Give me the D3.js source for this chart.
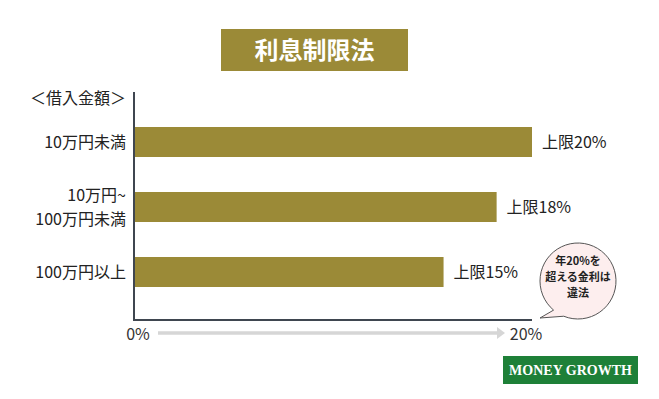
<!DOCTYPE html>
<html>
<head>
<meta charset="utf-8">
<script src="https://cdn.jsdelivr.net/npm/d3@7"></script>
<style>
  body { margin: 0; background: #fff; }
  svg text { font-family: "Noto Sans CJK JP", "Noto Sans", sans-serif; }
</style>
</head>
<body>
<svg></svg>
<script>
///////////////////////////////////////////
// Data
var categories = [["10万円未満"], ["10万円~", "100万円未満"], ["100万円以上"]];
var limits = [20, 18, 15];
var valueLabels = ["上限20%", "上限18%", "上限15%"];
var tickLabels = ["0%", "20%"];
var title = "利息制限法";
var axisTitle = "＜借入金額＞";
var bubbleLines = ["年20%を", "超える金利は", "違法"];

///////////////////////////////////////////
// Layout Setting
var svgWidth = 659, svgHeight = 399;
var margin = {top: 92, right: 127, bottom: 79, left: 134},
    width = svgWidth - margin.left - margin.right,
    height = svgHeight - margin.top - margin.bottom;

var gold = "#9b8a37", axisColor = "#3f4650";

var svg = d3.select("svg").attr("width", svgWidth).attr("height", svgHeight);

// bars are drawn on a stretched scale (as in the original design)
var x = d3.scaleLinear().domain([-2.5, 20]).range([0, width]);
var y = d3.scaleBand().domain(d3.range(categories.length)).range([20, 215]);

var g = svg.append("g").attr("transform", "translate(" + [margin.left, margin.top] + ")");

// title box
svg.append("rect").attr("x", 221).attr("y", 29).attr("width", 187).attr("height", 42).attr("fill", gold);
svg.append("text").attr("x", 314.5).attr("y", 50).attr("dy", "0.36em").attr("text-anchor", "middle")
  .attr("fill", "#fff").attr("font-size", 24).attr("font-weight", "bold").text(title);

// bars
g.selectAll("rect.bar").data(limits).enter().append("rect").classed("bar", true)
  .attr("x", 0).attr("y", function(d, i){ return y(i) + 15; })
  .attr("width", function(d){ return x(d); })
  .attr("height", 30)
  .attr("fill", gold);

g.selectAll("text.val").data(limits).enter().append("text").classed("val", true)
  .attr("x", function(d){ return x(d) + 10; })
  .attr("y", function(d, i){ return y(i) + 30; })
  .attr("dy", "0.36em").attr("font-size", 16).attr("fill", "#222")
  .text(function(d, i){ return valueLabels[i]; });

// category labels
var cat = g.selectAll("text.cat").data(categories).enter().append("text").classed("cat", true)
  .attr("text-anchor", "end").attr("font-size", 16).attr("fill", "#222")
  .attr("y", function(d, i){ return y(i) + 30 - (d.length - 1) * 11.75; });
cat.selectAll("tspan").data(function(d){ return d; }).enter().append("tspan")
  .attr("x", -8).attr("dy", function(d, j){ return j === 0 ? "0.36em" : "23.5px"; })
  .text(function(d){ return d; });

svg.append("text").attr("x", 126).attr("y", 98).attr("dy", "0.36em")
  .attr("text-anchor", "end").attr("font-size", 16).attr("fill", "#222").text(axisTitle);

// axes
g.append("line").attr("x1", 0).attr("x2", 0).attr("y1", 0).attr("y2", 229)
  .attr("stroke", axisColor).attr("stroke-width", 2);
g.append("line").attr("x1", -1).attr("x2", x(20)).attr("y1", 228).attr("y2", 228)
  .attr("stroke", axisColor).attr("stroke-width", 2);

// tick labels + gray arrow
var tickX = [x(-2.5) + 4, x(20) - 6];
svg.selectAll("text.tick").data(tickLabels).enter().append("text").classed("tick", true)
  .attr("x", function(d, i){ return margin.left + tickX[i]; })
  .attr("y", 334).attr("dy", "0.36em").attr("text-anchor", "middle")
  .attr("font-size", 16).attr("fill", "#333").text(function(d){ return d; });

svg.append("line").attr("x1", 158).attr("x2", 500).attr("y1", 333).attr("y2", 333)
  .attr("stroke", "#d6d6d6").attr("stroke-width", 3.5);
svg.append("path").attr("d", "M497,327 L505,333 L497,339 Z").attr("fill", "#d6d6d6");

// speech bubble
var bx = 578, by = 281, br = 38;
var a1 = 130 * Math.PI / 180, a2 = 112 * Math.PI / 180;
var p1 = [bx + br * Math.cos(a1), by + br * Math.sin(a1)],
    p2 = [bx + br * Math.cos(a2), by + br * Math.sin(a2)];
svg.append("path")
  .attr("d", "M" + p2 + " A" + br + "," + br + " 0 1,0 " + p1 + " L540,318 Z")
  .attr("fill", "#fdeeee").attr("stroke", "#555").attr("stroke-width", 1);
svg.append("text").attr("x", bx).attr("y", 261).attr("text-anchor", "middle")
  .attr("font-size", 11).attr("font-weight", "bold").attr("fill", "#222")
  .selectAll("tspan").data(bubbleLines).enter().append("tspan")
  .attr("x", bx).attr("dy", function(d, j){ return j === 0 ? "0.36em" : "16px"; })
  .text(function(d){ return d; });

// logo
svg.append("rect").attr("x", 503).attr("y", 356).attr("width", 135).attr("height", 28).attr("fill", "#1e8038");
svg.append("text").attr("x", 570.5).attr("y", 370).attr("dy", "0.35em").attr("text-anchor", "middle")
  .attr("fill", "#fff").attr("font-size", 14).attr("font-weight", "bold")
  .style("font-family", "'Liberation Serif', 'DejaVu Serif', serif").text("MONEY GROWTH");
</script>
</body>
</html>
